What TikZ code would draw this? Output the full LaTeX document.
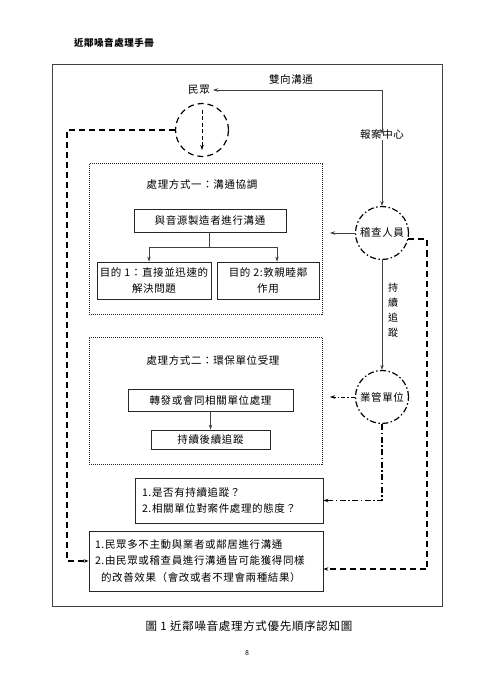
\documentclass[tikz,border=0pt]{standalone}
\usepackage{fontspec}
\setmainfont{Noto Sans CJK TC}[LetterSpace=6]
\usetikzlibrary{arrows.meta,calc}
\begin{document}
\begin{tikzpicture}[x=1pt,y=-1pt,
  txt/.style={font=\fontsize{10.5}{16}\selectfont, inner sep=0pt},
  boxx/.style={draw=black!85, line width=0.8pt, font=\fontsize{10.5}{16}\selectfont, inner sep=0pt, align=center},
  zone/.style={draw=black!85, line width=1pt, densely dotted, inner sep=0pt},
  arr/.style={-{Stealth[length=5pt,width=3.5pt]}},
  thin/.style={line width=0.7pt, draw=black!75},
  bigdash/.style={line width=1.2pt, dash pattern=on 6pt off 4pt},
  dashdot/.style={line width=1.2pt, dash pattern=on 6pt off 2.5pt on 1.5pt off 2.5pt},
  circ/.style={circle, minimum size=53pt, inner sep=0pt, font=\fontsize{10.5}{13}\selectfont}
]
\useasboundingbox (0,0) rectangle (495,700);
% header
\node[font=\fontsize{9.5}{12}\selectfont\bfseries, inner sep=0pt] (hdr) at (114,43) {近鄰噪音處理手冊};
% outer frame
\node[draw=black!75, line width=1pt, minimum width=390pt, minimum height=541pt, inner sep=0pt] (frame) at (247,335.5) {};
% top
\node[txt] (minzhong) at (199,90) {民眾};
\node[txt] (bacz) at (382,135) {報案中心};
\node[txt] (sxgt) at (291,80) {雙向溝通};
\draw[thin,{Stealth[length=5pt,width=3.5pt]}-{Stealth[length=5pt,width=3.5pt]}] ([xshift=3pt]minzhong.east) -| ([yshift=-4pt]bacz.north);
% minzhong circle
\node[circ, draw, bigdash] (mzc) at (202,130) {};
\coordinate (mz1) at (202,110);
\coordinate (mz2) at (202,150);
\draw[line width=1pt, dash pattern=on 4pt off 2.5pt, arr] (mz1) -- (mz2);
% zones
\node[zone, minimum width=233pt, minimum height=150pt] (zone1) at (205.5,239) {};
\node[txt] (t1) at (202,185) {處理方式一：溝通協調};
\node[boxx, minimum width=152pt, minimum height=23pt] (b11) at (210,220.5) {與音源製造者進行溝通};
\node[boxx, minimum width=114pt, minimum height=37pt] (g1) at (154,280.5) {目的 1：直接並迅速的\\解決問題};
\node[boxx, minimum width=102pt, minimum height=37pt] (g2) at (268,280.5) {目的 2:敦親睦鄰\\作用};
\coordinate (j1) at (209,247);
\draw[thin] (b11.south -| j1) -- (j1);
\draw[thin,arr] (j1) -| ([xshift=-5pt]g1.north);
\draw[thin,arr] (j1) -| ([xshift=9pt]g2.north);

\node[zone, minimum width=233pt, minimum height=127pt] (zone2) at (205.5,400.5) {};
\node[txt] (t2) at (213,360) {處理方式二：環保單位受理};
\node[boxx, minimum width=165pt, minimum height=22pt] (b21) at (210.5,400) {轉發或會同相關單位處理};
\node[boxx, minimum width=119pt, minimum height=19pt] (b22) at (210.5,439.5) {持續後續追蹤};
\draw[thin,arr] (b21.south) -- (b22.north);

% circles on right
\node[circ, draw, dashdot] (jc) at (382,233) {稽查人員};
\node[circ, draw, dashdot] (yg) at (382,397) {業管單位};
\draw[thin,arr] (bacz.south) -- (jc.north);
\draw[thin,arr] (jc.south) -- (yg.north);
\node[txt, align=center, font=\fontsize{10}{15}\selectfont] (cxzz) at (393,310) {持\\續\\追\\蹤};
\coordinate (a1) at (330,233);
\draw[thin,arr] (jc.west) -- (a1);
\coordinate (a2) at (330,397);
\draw[line width=1pt, dash pattern=on 4pt off 2pt on 1.5pt off 2pt, arr] (yg.west) -- (a2);

% bottom boxes
\node[boxx, minimum width=188pt, minimum height=45pt, text width=174pt, align=left, inner sep=7pt] (box3) at (229,500.5) {1.是否有持續追蹤？\\2.相關單位對案件處理的態度？};
\node[boxx, minimum width=234pt, minimum height=60pt, text width=222pt, align=left, inner sep=6pt, font=\fontsize{10.5}{16.5}\selectfont] (box4) at (206,561) {1.民眾多不主動與業者或鄰居進行溝通\\2.由民眾或稽查員進行溝通皆可能獲得同樣\\\hspace*{6pt}的改善效果（會改或者不理會兩種結果）};

% long connectors
\coordinate (l1) at (67,300);
\draw[bigdash,arr] (mzc.west) -| (l1) |- (box4.west);
\coordinate (r1) at (427,300);
\draw[bigdash,arr] (jc.-13) -| (r1) |- ([yshift=-8pt]box4.east);
\draw[dashdot,arr] (yg.south) |- (box3.east);

% caption
\node[font=\fontsize{11.5}{14}\selectfont, inner sep=0pt] (cap) at (249,626) {圖 1 近鄰噪音處理方式優先順序認知圖};
\node[font=\fontsize{7}{9}\selectfont, inner sep=0pt] (pg) at (247,653) {8};
\end{tikzpicture}
\end{document}
